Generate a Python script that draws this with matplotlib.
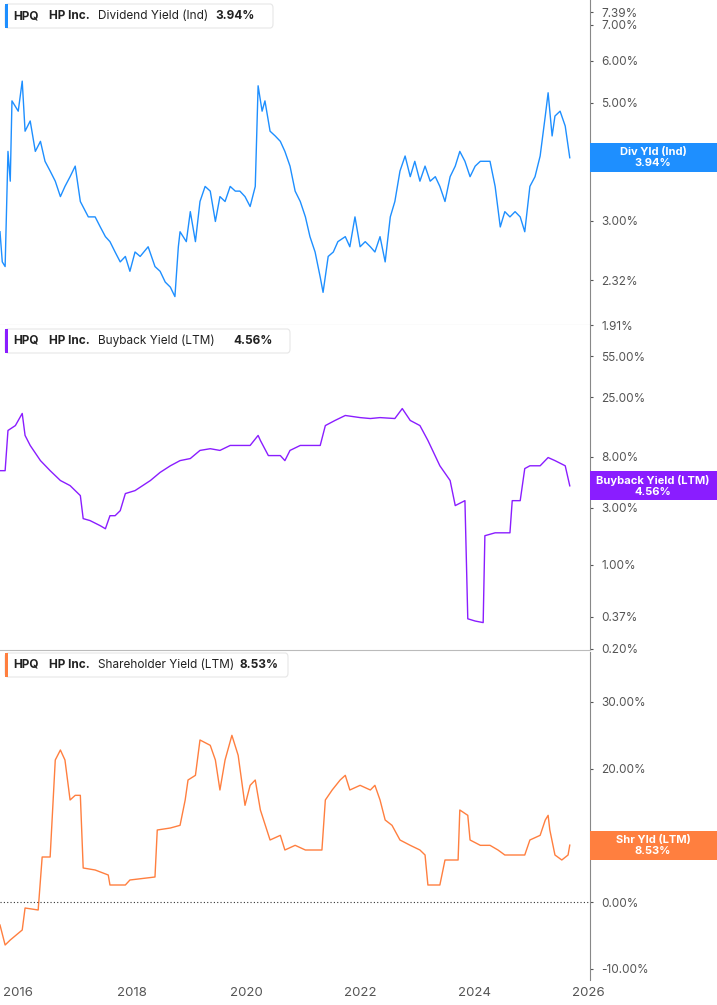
import numpy as np
import matplotlib.pyplot as plt
from matplotlib.patches import FancyBboxPatch, Rectangle
from matplotlib.ticker import FixedLocator, NullLocator, NullFormatter

plt.rcParams['font.family'] = 'Inter'

# ---------------- data (year, value) ----------------
div_years = [2015.68, 2015.72, 2015.77, 2015.82, 2015.86, 2015.89, 2016.00, 2016.07, 2016.12, 2016.21,
             2016.30, 2016.39, 2016.47, 2016.56, 2016.65, 2016.74, 2016.82, 2016.91, 2017.00, 2017.09,
             2017.23, 2017.35, 2017.44, 2017.53, 2017.61, 2017.70, 2017.79, 2017.88, 2017.96, 2018.05,
             2018.14, 2018.28, 2018.40, 2018.49, 2018.58, 2018.67, 2018.75, 2018.81, 2018.84, 2018.95,
             2019.02, 2019.11, 2019.19, 2019.28, 2019.37, 2019.46, 2019.54, 2019.63, 2019.72, 2019.81,
             2019.89, 2019.98, 2020.07, 2020.16, 2020.21, 2020.28, 2020.33, 2020.42, 2020.51, 2020.60,
             2020.68, 2020.77, 2020.86, 2020.95, 2021.04, 2021.12, 2021.21, 2021.30, 2021.35, 2021.44,
             2021.53, 2021.61, 2021.74, 2021.82, 2021.91, 2022.00, 2022.09, 2022.18, 2022.26, 2022.35,
             2022.44, 2022.53, 2022.61, 2022.70, 2022.79, 2022.88, 2022.96, 2023.05, 2023.14, 2023.23,
             2023.32, 2023.40, 2023.49, 2023.58, 2023.67, 2023.75, 2023.84, 2023.93, 2024.02, 2024.11,
             2024.19, 2024.28, 2024.37, 2024.46, 2024.54, 2024.63, 2024.72, 2024.81, 2024.89, 2024.98,
             2025.07, 2025.16, 2025.25, 2025.30, 2025.37, 2025.42, 2025.51, 2025.60, 2025.68]
div_vals = [2.86, 2.51, 2.46, 4.05, 3.56, 5.04, 4.82, 5.49, 4.42, 4.62,
            4.05, 4.23, 3.88, 3.72, 3.56, 3.33, 3.48, 3.63, 3.80, 3.26,
            3.05, 3.05, 2.92, 2.80, 2.74, 2.62, 2.51, 2.57, 2.41, 2.62,
            2.57, 2.68, 2.46, 2.41, 2.30, 2.25, 2.16, 2.68, 2.86, 2.74,
            3.12, 2.74, 3.26, 3.48, 3.41, 2.99, 3.33, 3.26, 3.48, 3.41,
            3.41, 3.33, 3.19, 3.48, 5.38, 4.82, 5.04, 4.42, 4.33, 4.23,
            4.05, 3.80, 3.41, 3.26, 3.05, 2.80, 2.62, 2.35, 2.20, 2.57,
            2.62, 2.74, 2.80, 2.68, 3.05, 2.68, 2.74, 2.68, 2.62, 2.80,
            2.51, 3.05, 3.26, 3.72, 3.97, 3.63, 3.88, 3.56, 3.80, 3.56,
            3.63, 3.48, 3.26, 3.63, 3.80, 4.05, 3.88, 3.63, 3.80, 3.88,
            3.88, 3.88, 3.48, 2.92, 3.12, 3.05, 3.12, 3.05, 2.86, 3.48,
            3.63, 3.97, 4.72, 5.22, 4.33, 4.72, 4.82, 4.52, 3.94]

bb_years = [2015.68, 2015.77, 2015.82, 2015.95, 2016.07, 2016.12, 2016.21, 2016.39, 2016.56, 2016.74,
            2016.91, 2017.09, 2017.14, 2017.26, 2017.44, 2017.53, 2017.61, 2017.70, 2017.79, 2017.88,
            2018.05, 2018.32, 2018.49, 2018.67, 2018.84, 2019.02, 2019.19, 2019.37, 2019.54, 2019.72,
            2019.89, 2020.07, 2020.21, 2020.25, 2020.39, 2020.60, 2020.68, 2020.77, 2020.95, 2021.12,
            2021.30, 2021.39, 2021.56, 2021.74, 2022.00, 2022.18, 2022.35, 2022.61, 2022.74, 2022.88,
            2023.05, 2023.19, 2023.40, 2023.58, 2023.67, 2023.84, 2023.89, 2024.02, 2024.16, 2024.19,
            2024.37, 2024.63, 2024.67, 2024.81, 2024.89, 2024.98, 2025.16, 2025.30, 2025.42, 2025.60,
            2025.68]
bb_vals = [6.1, 6.1, 13.2, 14.5, 18.3, 12.0, 9.9, 7.4, 6.1, 5.05,
           4.58, 3.78, 2.43, 2.34, 2.12, 2.0, 2.57, 2.57, 2.83, 3.93,
           4.16, 5.05, 5.9, 6.7, 7.4, 7.7, 9.0, 9.3, 9.0, 9.9,
           9.9, 9.9, 12.0, 10.9, 8.15, 8.15, 7.4, 9.0, 9.9, 9.9,
           9.9, 14.5, 16.0, 17.6, 16.9, 16.6, 16.9, 16.6, 20.1, 16.0,
           14.5, 10.9, 6.7, 5.05, 3.12, 3.43, 0.355, 0.34, 0.33, 1.75,
           1.85, 1.85, 3.43, 3.43, 6.35, 6.7, 6.7, 7.85, 7.4, 6.7,
           4.56]

sh_years = [2015.68, 2015.77, 2015.86, 2016.07, 2016.12, 2016.35, 2016.42, 2016.56, 2016.65, 2016.74,
            2016.82, 2016.91, 2017.00, 2017.09, 2017.14, 2017.35, 2017.58, 2017.61, 2017.88, 2017.96,
            2018.40, 2018.44, 2018.67, 2018.84, 2018.93, 2018.98, 2019.11, 2019.19, 2019.37, 2019.46,
            2019.54, 2019.63, 2019.75, 2019.86, 2019.98, 2020.07, 2020.16, 2020.25, 2020.42, 2020.60,
            2020.68, 2020.86, 2021.04, 2021.21, 2021.33, 2021.39, 2021.51, 2021.65, 2021.74, 2021.82,
            2022.00, 2022.18, 2022.26, 2022.35, 2022.44, 2022.56, 2022.70, 2022.88, 2023.05, 2023.14,
            2023.19, 2023.40, 2023.49, 2023.72, 2023.75, 2023.89, 2023.93, 2024.11, 2024.28, 2024.42,
            2024.54, 2024.72, 2024.89, 2024.98, 2025.16, 2025.25, 2025.30, 2025.33, 2025.42, 2025.54,
            2025.65, 2025.68]
sh_vals = [-3.45, -6.45, -5.7, -4.2, -0.9, -1.2, 6.75, 6.75, 21.3, 22.8,
           21.3, 15.3, 16.0, 16.0, 5.1, 4.8, 4.05, 2.55, 2.55, 3.3,
           3.75, 10.8, 11.1, 11.5, 15.3, 18.3, 19.0, 24.3, 23.5, 21.3,
           16.8, 21.3, 25.0, 22.0, 14.5, 17.5, 18.3, 13.8, 9.3, 10.0,
           7.8, 8.5, 7.8, 7.8, 7.8, 15.3, 16.8, 18.3, 19.0, 16.8,
           17.5, 16.8, 17.5, 15.3, 12.3, 11.5, 9.3, 8.5, 7.8, 7.05,
           2.55, 2.55, 6.3, 6.3, 13.8, 13.0, 9.3, 8.5, 8.5, 7.8,
           7.05, 7.05, 7.05, 9.3, 10.0, 12.3, 13.0, 10.8, 7.05, 6.3,
           7.05, 8.53]

div_ticks = [1.91, 2.32, 3.0, 4.0, 5.0, 6.0, 7.0, 7.39]
bb_ticks = [0.20, 0.37, 1.0, 3.0, 8.0, 25.0, 55.0]
sh_ticks = [-10, 0, 10, 20, 30]
year_ticks = list(range(2016, 2027, 2))

BLUE = '#1e8fff'
PURPLE = '#8a1dff'
ORANGE = '#ff7f3f'
GRAY = '#555555'

W, H = 717, 1005
fig = plt.figure(figsize=(7.17, 10.05), dpi=100)


def add_ax(top, bottom):
    ax = fig.add_axes([0, 1 - bottom / H, 590 / W, (bottom - top) / H])
    for s in ['left', 'top']:
        ax.spines[s].set_visible(False)
    ax.spines['right'].set_color('#888888')
    ax.spines['bottom'].set_color('#bbbbbb')
    ax.yaxis.tick_right()
    ax.tick_params(axis='y', length=2, colors=GRAY, labelsize=8.5, pad=6)
    ax.set_xlim(2015.68, 2026.035)
    ax.xaxis.set_major_locator(NullLocator())
    return ax


def legend(color, metric, value, x_val, x_end, y_px):
    fig.patches.append(FancyBboxPatch((5 / W, 1 - (y_px + 12) / H), (x_end - 5) / W, 24 / H,
                                      boxstyle='round,pad=0,rounding_size=0.004',
                                      transform=fig.transFigure, fc='white', ec='#e6e6e6', lw=0.8))
    fig.patches.append(Rectangle((5 / W, 1 - (y_px + 12) / H), 3 / W, 24 / H,
                                 transform=fig.transFigure, fc=color, ec='none'))
    yy = 1 - y_px / H
    fig.text(13 / W, yy, 'HPQ', fontsize=8.5, weight='bold', color='#222222', va='center')
    fig.text(49 / W, yy, 'HP Inc.', fontsize=8.5, weight='bold', color='#222222', va='center')
    fig.text(98 / W, yy, metric, fontsize=8.5, color='#222222', va='center')
    fig.text(x_val / W, yy, value, fontsize=8.5, weight='bold', color='#222222', va='center')


def end_label(ax, color, line1, line2, val, height=29):
    y = ax.transData.transform((2020, val))[1]
    y_px = H - y
    ax.add_patch(Rectangle((590 / W, 1 - (y_px + height / 2) / H), 127 / W, height / H,
                           transform=fig.transFigure, fc=color, ec='none', clip_on=False, zorder=5))
    ax.text(653 / W, 1 - y_px / H, line1 + '\n' + line2, fontsize=8, weight='bold',
            transform=fig.transFigure, color='white', ha='center', va='center',
            linespacing=1.1, zorder=6)


# top panel
ax1 = add_ax(0, 325)
ax1.set_yscale('log')
ax1.set_ylim(1.91, 7.8)
ax1.plot(div_years, div_vals, color=BLUE, lw=1)
ax1.yaxis.set_major_locator(FixedLocator(div_ticks))
ax1.set_yticklabels([f'{t:.2f}%' for t in div_ticks])

# middle panel
ax2 = add_ax(325, 650)
ax2.set_yscale('log')
ax2.set_ylim(0.195, 100)
ax2.plot(bb_years, bb_vals, color=PURPLE, lw=1)
ax2.yaxis.set_major_locator(FixedLocator(bb_ticks))
ax2.set_yticklabels([f'{t:.2f}%' for t in bb_ticks])

# bottom panel
ax3 = add_ax(652, 980)
ax3.set_ylim(-11.7, 37.5)
ax3.plot(sh_years, sh_vals, color=ORANGE, lw=1)
ax3.axhline(0, color='#333333', lw=0.8, ls=(0, (1, 2)))
ax3.yaxis.set_major_locator(FixedLocator(sh_ticks))
ax3.set_yticklabels([f'{t:.2f}%' for t in sh_ticks])
ax3.spines['bottom'].set_visible(False)
ax3.xaxis.set_major_locator(FixedLocator(year_ticks))
ax3.set_xticklabels([str(y) for y in year_ticks])
ax3.tick_params(axis='x', length=0, colors=GRAY, labelsize=9.5, pad=5)

for ax in (ax1, ax2, ax3):
    ax.yaxis.set_minor_locator(NullLocator())
    ax.yaxis.set_minor_formatter(NullFormatter())

legend(BLUE, 'Dividend Yield (Ind)', '3.94%', 215, 273, 16)
legend(PURPLE, 'Buyback Yield (LTM)', '4.56%', 233, 290, 341)
legend(ORANGE, 'Shareholder Yield (LTM)', '8.53%', 240, 288, 665)

end_label(ax1, BLUE, 'Div Yld (Ind)', '3.94%', 3.94)
end_label(ax2, PURPLE, 'Buyback Yield (LTM)', '4.56%', 4.56)
end_label(ax3, ORANGE, 'Shr Yld (LTM)', '8.53%', 8.53)

fig.savefig('out.png', dpi=100)
